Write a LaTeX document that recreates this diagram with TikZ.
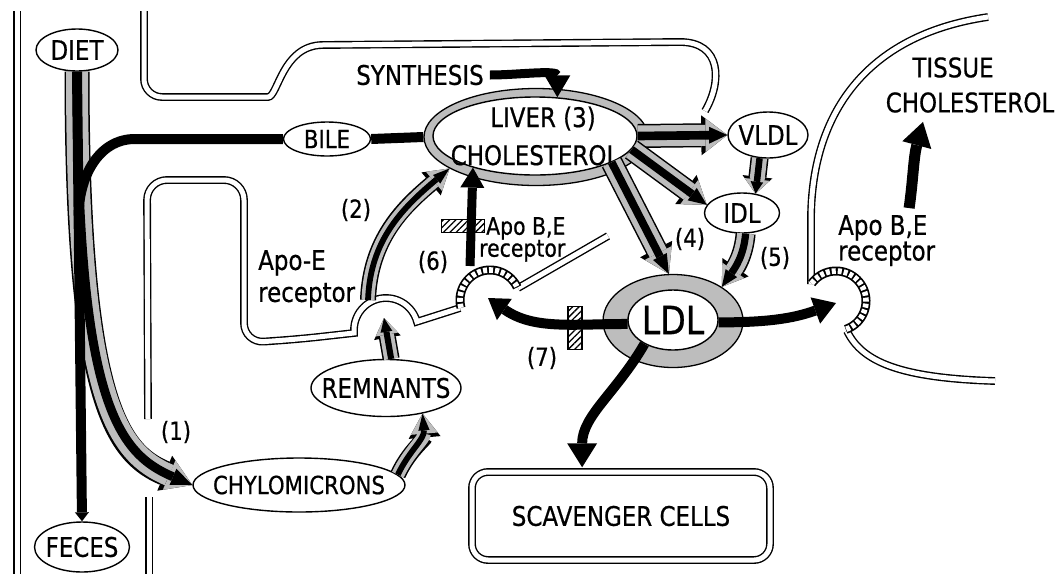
\documentclass[tikz,border=0pt]{standalone}
\usepackage{fontspec}
\setmainfont{DejaVu Sans}[FakeStretch=0.85]
\newfontfamily\lblfont{DejaVu Sans}[FakeStretch=0.85,FakeBold=0.6]
\usetikzlibrary{arrows.meta,shapes.geometric,patterns.meta,calc}
\colorlet{stip}{black!26}
\tikzset{
  txt/.style 2 args={font=\lblfont\fontsize{#1pt}{#2pt}\selectfont, inner sep=0pt, align=center},
  oval/.style={ellipse, draw, line width=1.4pt, fill=white, inner sep=0pt},
  ringshape/.style={ellipse, draw, line width=1.3pt, fill=stip, inner sep=0pt},
  memb/.style={draw, line width=1.4pt, double=white, double distance=5pt},
  ladder/.style={draw=black, line width=9pt, postaction={draw=white, line width=5.6pt, dash pattern=on 4pt off 2pt}},
  blkline/.style={draw=black, line width=10pt},
  blk/.style n args={3}{draw=black, line width=#1pt, -{Triangle[length=#2pt,width=#3pt,line width=0pt]}},
  fatband/.style n args={3}{
    draw=black, line width=#1pt,
    -{Triangle[length=#2pt,width=#3pt,line width=0pt]},
    postaction={draw=stip, line width=#1pt-3pt, -{Triangle[length=#2pt,width=#3pt,line width=0pt,scale=0.84]}},
    postaction={draw=black, line width=0.36*#1pt, -{Triangle[length=#2pt,width=#1pt,line width=0pt,scale=0.7]}}
  },
  hatchbox/.style={draw, line width=1.2pt, inner sep=0pt, preaction={fill=white}, pattern={Lines[angle=45,distance=4.5pt,line width=1.3pt]}},
}
\begin{document}
\begin{tikzpicture}[x=1pt,y=-1pt]
\fill[white] (0,0) rectangle (1059,574);
\useasboundingbox (0,0) rectangle (1059,574);

% ---- membranes / channels
\draw[memb] (17,11) -- (17,574);
\draw[memb] (144,11) [rounded corners=18pt] -- (144,97) -- (250,97) [sharp corners] .. controls (278,97) and (282,46) .. (322,45) -- (680,42) .. controls (722,42) and (722,82) .. (705,111);
\draw[memb] (148,419) [rounded corners=20pt] -- (147,180) -- (244,180) -- (244,343) -- (300,339) [sharp corners] -- (354,333) -- plot[domain=180:345,samples=30] ({386+32*cos(\x)},{330+32*sin(\x)}) -- (460,308);
\draw[memb] (518,288) -- (608,236);
\draw[memb] (149,497) -- (149,574);
\draw[memb] (988,17) .. controls (865,35) and (811,115) .. (811,220) -- (811,284);
\draw[memb] (847,331) .. controls (862,362) and (900,378) .. (995,381);
\draw[ladder] plot[domain=165:335,samples=40] ({490+30*cos(\x)},{300+30*sin(\x)});
\draw[ladder] plot[domain=216:431,samples=40] ({836+30*cos(\x)},{301+30*sin(\x)});

% ---- rings
\node[ringshape, minimum width=224pt, minimum height=97pt] (liverring) at (536,137) {};
\node[ringshape, minimum width=140pt, minimum height=93pt] (ldlring) at (673,321) {};

% ---- nodes
\node[oval, txt={27}{27}, minimum width=82pt, minimum height=42pt] (diet) at (77,50) {DIET};
\node[oval, txt={27}{27}, inner xsep=-3pt, minimum width=95pt, minimum height=50pt] (feces) at (82,547) {FECES};
\node[oval, txt={25}{25}, minimum width=87pt, minimum height=34pt] (bile) at (327,139) {BILE};
\node[oval, txt={27}{38}, inner xsep=-13pt, inner ysep=-3pt, minimum width=204pt, minimum height=78pt] (liver) at (535,136) {\hspace*{16pt}LIVER (3)\\CHOLESTEROL};
\node[oval, txt={27}{27}, inner xsep=-2pt, minimum width=80pt, minimum height=46pt] (vldl) at (768,135) {VLDL};
\node[oval, txt={27}{27}, minimum width=75pt, minimum height=40pt] (idl) at (742,213) {IDL};
\node[oval, txt={39}{39}, minimum width=90pt, minimum height=60pt] (ldl) at (673,320) {LDL};
\node[oval, txt={27}{27}, inner xsep=-22pt, minimum width=150pt, minimum height=57pt] (remnants) at (386,388) {REMNANTS};
\node[oval, txt={25}{25}, inner xsep=-12pt, minimum width=212pt, minimum height=54pt] (chylo) at (299,485) {CHYLOMICRONS};
\node[draw, double=white, double distance=5pt, line width=1.4pt, rounded corners=16pt, minimum width=298pt, minimum height=88pt, txt={27}{27}] (scav) at (621,516) {SCAVENGER CELLS};
\node[txt={27}{27}, inner xsep=6pt] (synth) at (420,75) {SYNTHESIS};
\node[txt={27}{35}] (tissue) at (970,85) {TISSUE\hspace*{34pt}\\CHOLESTEROL};

% ---- labels
\node[txt={27}{32}, align=left, anchor=north west] (apoe) at (258,250) {Apo-E\\receptor};
\node[txt={24}{22}, align=left, anchor=north west] (apobe) at (479,217) {\hspace*{7pt}Apo B,E\\receptor};
\node[txt={27}{23}, align=left, anchor=north west] (tlab) at (838,215) {Apo B,E\\receptor};
\node[txt={25}{25}] (n1) at (176,432) {(1)};
\node[txt={25}{25}] (n2) at (356,210) {(2)};
\node[txt={25}{25}] (n4) at (690,239) {(4)};
\node[txt={25}{25}] (n5) at (775,258) {(5)};
\node[txt={25}{25}] (n6) at (433,262) {(6)};
\node[txt={25}{25}] (n7) at (542,358) {(7)};

% ---- hatched blocks
\node[hatchbox, minimum width=43pt, minimum height=13pt] (hatchA) at (463,226) {};
\node[hatchbox, minimum width=14pt, minimum height=43pt] (hatchB) at (575,328) {};

% ---- coordinates
\coordinate (joinpt) at ($(diet.south)!0.32!(feces.north)$);
\coordinate (bumpc) at (384,318);
\coordinate (bumpl) at (368,300);
\coordinate (pitBtop) at (470,266);
\coordinate (pitBc) at (488,298);
\coordinate (pitTc) at (836,303);
\coordinate (tissuein) at ($(tissue.south)+(-47,9)$);

% ---- banded arrows
\draw[fatband={25}{30}{38}] (diet.south) .. controls +(0,330) and +(-75,-32) .. (chylo.west);
\draw[fatband={16}{24}{32}] (chylo.6) to[out=65,in=-85] (remnants.-35);
\draw[fatband={17}{20}{27}] (remnants.80) -- (bumpc);
\draw[fatband={16}{24}{30}] (bumpl) to[out=88,in=-140] (liverring.-160);
\draw[fatband={24}{26}{40}] (liver.east) -- (vldl.west);
\draw[fatband={22}{26}{36}] (liver.-8) -- (idl.167);
\draw[fatband={22}{28}{36}] (liver.-19) -- (ldlring.95);
\draw[fatband={18}{17}{30}] (vldl.-110) -- (idl.55);
\draw[fatband={20}{24}{32}] (idl.-80) to[out=-95,in=55] (ldlring.35);

% ---- black connectors
\draw[blkline] (bile.east) -- (liverring.west);
\draw[blkline] (bile.west) -- ++(-148,0) to[out=180,in=90] (joinpt);
\draw[blk={10}{9}{14}] (diet.south) -- (feces.north);
\draw[blk={9}{22}{26}] (synth.east) to[out=0,in=90] (liver.60);
\draw[blk={9}{20}{24}] (pitBtop) -- (liver.-153);
\draw[blk={11}{24}{30}, shorten <=7pt] (tlab.50) to[out=82,in=-105] (tissuein);
\draw[blk={10}{20}{26}] (ldl.185) to[out=180,in=-35] (pitBc);
\draw[blk={10}{22}{28}] (ldl.-3) to[out=0,in=200] (pitTc);
\draw[blk={10}{24}{30}, shorten >=4pt] (ldl.-140) to[out=-120,in=90] (scav.131);
\end{tikzpicture}
\end{document}
